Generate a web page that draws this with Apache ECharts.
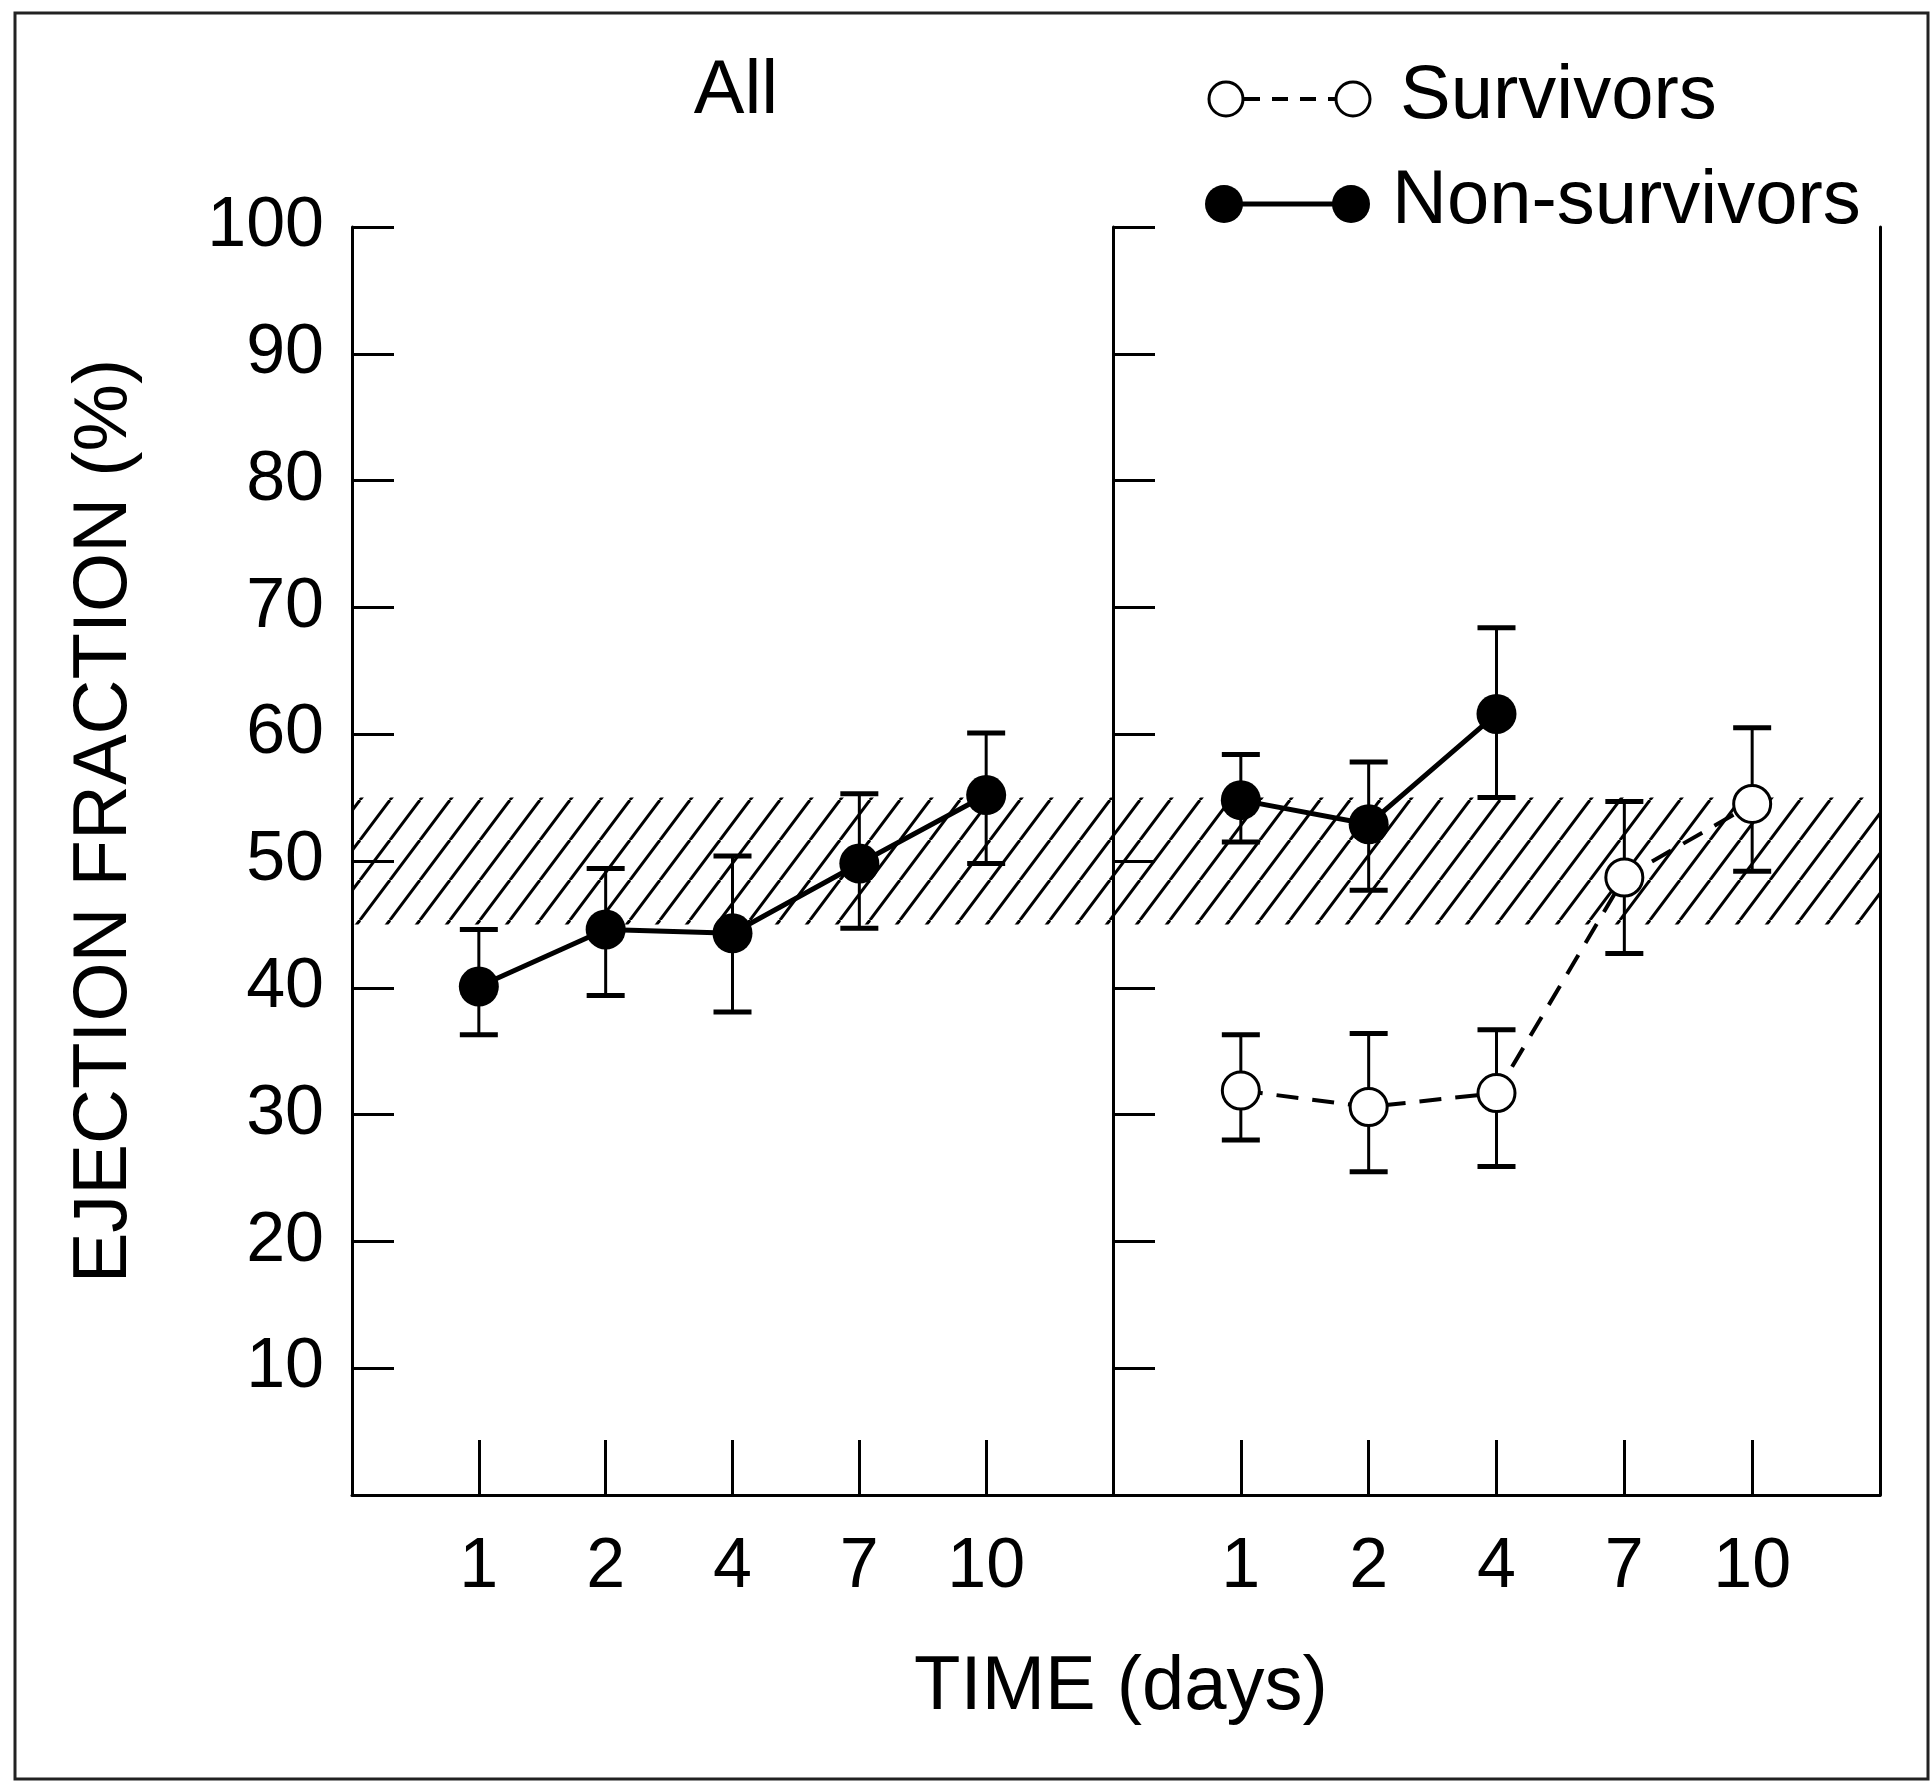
<!DOCTYPE html>
<html>
<head>
<meta charset="utf-8">
<script src="https://cdn.jsdelivr.net/npm/echarts@6/dist/echarts.min.js"></script>
<style>
  html, body { margin: 0; padding: 0; background: #fff; }
  #chart { width: 1930px; height: 1782px; }
</style>
</head>
<body>
<div id="chart"></div>
<script>
// ---- data ----
const dayLabels = ['1', '2', '4', '7', '10'];
const dayPos = [1, 2, 3, 4, 5];
const allMean = [40.1, 44.6, 44.3, 49.8, 55.2];
const allLow  = [36.3, 39.4, 38.1, 44.7, 49.8];
const allHigh = [44.6, 49.4, 50.4, 55.3, 60.1];
const survMean = [31.9, 30.6, 31.7, 48.7, 54.5];
const survLow  = [28.0, 25.5, 25.9, 42.7, 49.2];
const survHigh = [36.3, 36.4, 36.7, 54.7, 60.5];
const nonMean = [54.8, 52.9, 61.6];
const nonLow  = [51.5, 47.7, 55.0];
const nonHigh = [58.4, 57.8, 68.4];
const normalBand = [45, 55];
const seriesNames = ['Survivors', 'Non-survivors'];
const panelTitle = 'All';
const xTitle = 'TIME (days)';
const yTitle = 'EJECTION FRACTION (%)';

// ---- styling ----
const FONT = "'Liberation Sans', Arial, Helvetica, sans-serif";
const INK = '#000';

function hatchPattern() {
  const w = 30, h = 40;
  const c = document.createElement('canvas');
  c.width = w; c.height = h;
  const g = c.getContext('2d');
  g.strokeStyle = INK; g.lineWidth = 3;
  for (const dx of [-w, 0, w]) {
    g.beginPath(); g.moveTo(dx, h); g.lineTo(dx + w, 0); g.stroke();
  }
  return c;
}
const hatch = { image: hatchPattern(), repeat: 'repeat' };

function errorBar(params, api) {
  const x = api.value(0);
  const lo = api.coord([x, api.value(1)]);
  const hi = api.coord([x, api.value(2)]);
  const h = 19;
  return {
    type: 'group',
    children: [
      { type: 'line', shape: { x1: lo[0], y1: lo[1], x2: hi[0], y2: hi[1] }, style: { stroke: INK, lineWidth: 3 } },
      { type: 'line', shape: { x1: lo[0] - h, y1: lo[1], x2: lo[0] + h, y2: lo[1] }, style: { stroke: INK, lineWidth: 5 } },
      { type: 'line', shape: { x1: hi[0] - h, y1: hi[1], x2: hi[0] + h, y2: hi[1] }, style: { stroke: INK, lineWidth: 5 } }
    ]
  };
}

function xAxisDef(idx) {
  return {
    gridIndex: idx, type: 'value', min: 0, max: 6, interval: 1,
    axisLine: { show: true, onZero: false, lineStyle: { color: INK, width: 3 } },
    axisTick: { show: true, inside: true, length: 55, customValues: dayPos, lineStyle: { color: INK, width: 3 } },
    axisLabel: { show: true, margin: 38, fontSize: 70, color: INK, fontFamily: FONT,
      customValues: dayPos, formatter: v => dayLabels[v - 1] || '' },
    splitLine: { show: false }
  };
}

function yAxisDef(idx, showLabels) {
  return {
    gridIndex: idx, type: 'value', min: 0, max: 100, interval: 10,
    axisLine: { show: true, lineStyle: { color: INK, width: 3 } },
    axisTick: { show: true, inside: true, length: 42, lineStyle: { color: INK, width: 3 } },
    axisLabel: { show: showLabels, margin: 28, fontSize: 70, color: INK, fontFamily: FONT,
      formatter: v => (v === 0 ? '' : String(v)) },
    splitLine: { show: false },
    name: showLabels ? yTitle : '',
    nameLocation: 'middle', nameGap: 209,
    nameTextStyle: { fontSize: 76, color: INK, fontFamily: FONT, padding: [0, 0, 0, 80] }
  };
}

const pts = (means) => means.map((m, i) => [dayPos[i], m]);
const bars = (lo, hi) => lo.map((l, i) => [dayPos[i], l, hi[i]]);

function bandSeries(idx) {
  return {
    type: 'line', xAxisIndex: idx, yAxisIndex: idx, data: [[0, null]], symbol: 'none', silent: true,
    markArea: { silent: true, itemStyle: { color: hatch, borderWidth: 0 },
      data: [[{ yAxis: normalBand[0] }, { yAxis: normalBand[1] }]] }
  };
}

const option = {
  backgroundColor: '#fff',
  animation: false,
  grid: [
    { left: 352, top: 227, width: 761, height: 1268 },
    { left: 1113, top: 227, width: 767, height: 1268 }
  ],
  xAxis: [xAxisDef(0), xAxisDef(1)],
  yAxis: [
    yAxisDef(0, true),
    yAxisDef(1, false),
    { gridIndex: 1, type: 'value', position: 'right', min: 0, max: 100,
      axisLine: { show: true, lineStyle: { color: INK, width: 3 } },
      axisTick: { show: false }, axisLabel: { show: false }, splitLine: { show: false } }
  ],
  series: [
    bandSeries(0),
    bandSeries(1),
    { type: 'custom', name: 'All error', xAxisIndex: 0, yAxisIndex: 0, z: 3, renderItem: errorBar,
      encode: { x: 0, y: [1, 2] }, data: bars(allLow, allHigh) },
    { type: 'line', name: panelTitle, xAxisIndex: 0, yAxisIndex: 0, z: 4, data: pts(allMean),
      symbol: 'circle', symbolSize: 40, itemStyle: { color: INK },
      lineStyle: { color: INK, width: 5 } },
    { type: 'custom', name: 'Survivors error', xAxisIndex: 1, yAxisIndex: 1, z: 3, renderItem: errorBar,
      encode: { x: 0, y: [1, 2] }, data: bars(survLow, survHigh) },
    { type: 'custom', name: 'Non-survivors error', xAxisIndex: 1, yAxisIndex: 1, z: 3, renderItem: errorBar,
      encode: { x: 0, y: [1, 2] }, data: bars(nonLow, nonHigh) },
    { type: 'line', name: seriesNames[0], xAxisIndex: 1, yAxisIndex: 1, z: 4, data: pts(survMean),
      symbol: 'circle', symbolSize: 37,
      itemStyle: { color: '#fff', borderColor: INK, borderWidth: 3 },
      lineStyle: { color: INK, width: 4, type: [22, 14] } },
    { type: 'line', name: seriesNames[1], xAxisIndex: 1, yAxisIndex: 1, z: 4, data: pts(nonMean),
      symbol: 'circle', symbolSize: 40, itemStyle: { color: INK },
      lineStyle: { color: INK, width: 5 } }
  ],
  graphic: [
    { type: 'rect', silent: true, shape: { x: 15, y: 13, width: 1913, height: 1766 },
      style: { fill: 'none', stroke: '#222', lineWidth: 3 } },
    { type: 'text', x: 736, y: 92, silent: true,
      style: { text: panelTitle, font: `76px ${FONT}`, fill: INK, align: 'center', verticalAlign: 'middle' } },
    { type: 'text', x: 1121, y: 1688, silent: true,
      style: { text: xTitle, font: `76px ${FONT}`, fill: INK, align: 'center', verticalAlign: 'middle' } },
    // legend: Survivors
    { type: 'line', silent: true, shape: { x1: 1244, y1: 99, x2: 1336, y2: 99 },
      style: { stroke: INK, lineWidth: 4, lineDash: [16, 12] } },
    { type: 'circle', silent: true, shape: { cx: 1226, cy: 99, r: 17 }, style: { fill: '#fff', stroke: INK, lineWidth: 3 } },
    { type: 'circle', silent: true, shape: { cx: 1353, cy: 99, r: 17 }, style: { fill: '#fff', stroke: INK, lineWidth: 3 } },
    { type: 'text', x: 1400, y: 97, silent: true,
      style: { text: seriesNames[0], font: `76px ${FONT}`, fill: INK, align: 'left', verticalAlign: 'middle' } },
    // legend: Non-survivors
    { type: 'line', silent: true, shape: { x1: 1224, y1: 204, x2: 1351, y2: 204 },
      style: { stroke: INK, lineWidth: 5 } },
    { type: 'circle', silent: true, shape: { cx: 1224, cy: 204, r: 19 }, style: { fill: INK } },
    { type: 'circle', silent: true, shape: { cx: 1351, cy: 204, r: 19 }, style: { fill: INK } },
    { type: 'text', x: 1392, y: 202, silent: true,
      style: { text: seriesNames[1], font: `76px ${FONT}`, fill: INK, align: 'left', verticalAlign: 'middle' } }
  ]
};

const chart = echarts.init(document.getElementById('chart'), null, { renderer: 'canvas' });
chart.setOption(option);
</script>
</body>
</html>
